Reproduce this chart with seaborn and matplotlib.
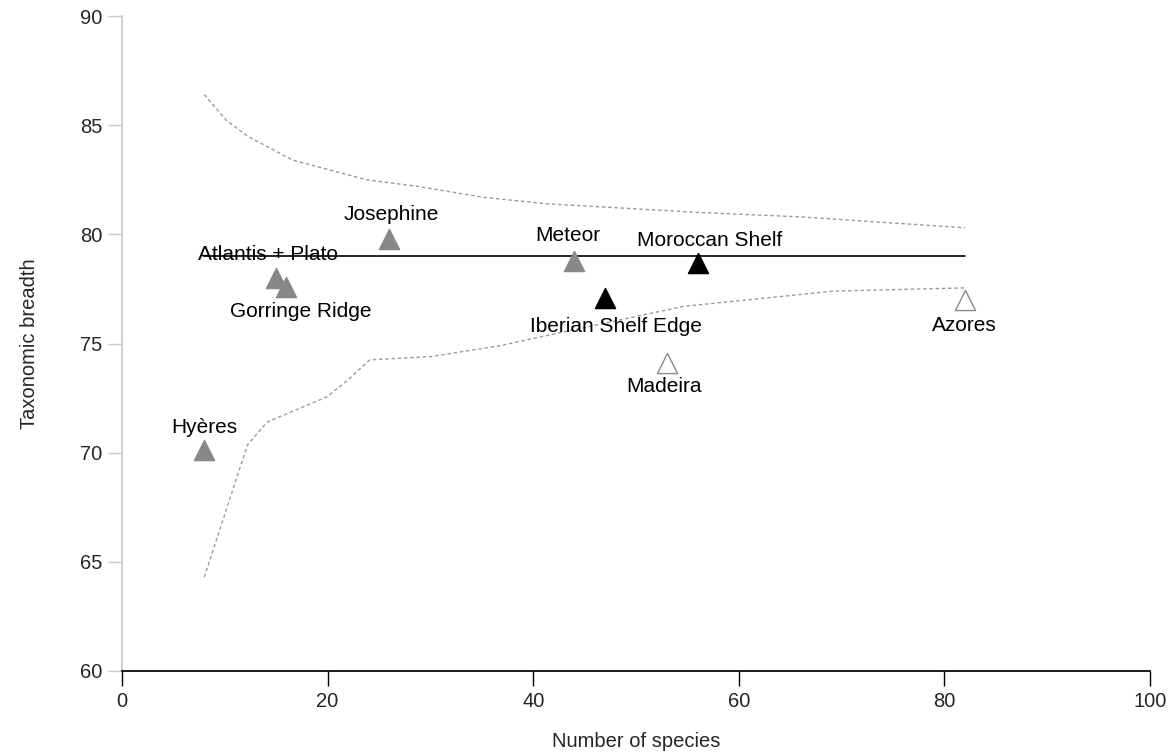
import matplotlib
matplotlib.use("Agg")
import matplotlib.pyplot as plt
import seaborn as sns
import pandas as pd

# ---- data ----
sites = ["Hyères", "Atlantis + Plato", "Gorringe Ridge", "Josephine", "Meteor",
         "Iberian Shelf Edge", "Moroccan Shelf", "Madeira", "Azores"]
n_species = [8, 15, 16, 26, 44, 47, 56, 53, 82]
breadth = [70.1, 78.0, 77.6, 79.8, 78.8, 77.1, 78.7, 74.1, 77.0]
site_type = ["seamount", "seamount", "seamount", "seamount", "seamount",
             "shelf", "shelf", "island", "island"]

mean_x = [8, 82]
mean_y = [79.0, 79.0]

upper_x = [8, 10.2, 12.2, 16.6, 20.2, 23.8, 28.7, 35.1, 41.3, 56.2, 66, 82]
upper_y = [86.4, 85.2, 84.5, 83.4, 82.95, 82.5, 82.2, 81.7, 81.4, 81.0, 80.8, 80.3]
lower_x = [8, 12.2, 14.1, 19.9, 21.9, 24.1, 30, 36.8, 40.7, 54.6, 69.2, 82.2]
lower_y = [64.3, 70.35, 71.4, 72.55, 73.3, 74.25, 74.4, 74.9, 75.3, 76.7, 77.4, 77.55]

# label offsets in pixels (layout)
label_offsets = [(0, 23), (-8, 23), (14, -25), (2, 24), (-7, 25),
                 (11, -29), (12, 22), (-3, -23), (-1, -26)]

df = pd.DataFrame({"site": sites, "n": n_species, "breadth": breadth, "type": site_type})

sns.set_theme(style="white")
plt.rcParams["font.family"] = ["Liberation Sans", "DejaVu Sans"]

fig = plt.figure(figsize=(11.74, 7.55), dpi=100)
ax = fig.add_axes([122 / 1174, 1 - 671 / 755, (1150 - 122) / 1174, (671 - 16) / 755])

dotted = dict(color="#9a9a9a", linewidth=1.0, linestyle=(0, (2.5, 2)))
sns.lineplot(x=upper_x, y=upper_y, ax=ax, sort=False, **dotted)
sns.lineplot(x=lower_x, y=lower_y, ax=ax, sort=False, **dotted)
sns.lineplot(x=mean_x, y=mean_y, ax=ax, color="black", linewidth=1.2)

styles = {
    "seamount": dict(color="#888888", edgecolor="#888888"),
    "shelf": dict(color="black", edgecolor="black"),
    "island": dict(color="white", edgecolor="#8a8a8a"),
}
for t, st in styles.items():
    sub = df[df["type"] == t]
    sns.scatterplot(data=sub, x="n", y="breadth", ax=ax, marker="^", s=210,
                    linewidth=1.0, zorder=5, **st)

for (name, x, y), (dx, dy) in zip(zip(sites, n_species, breadth), label_offsets):
    ax.annotate(name, (x, y), xytext=(dx, dy), textcoords="offset pixels",
                ha="center", va="center", fontsize=15, color="black")

ax.set_xlim(0, 100)
ax.set_ylim(60, 90)
ax.set_xticks([0, 20, 40, 60, 80, 100])
ax.set_yticks([60, 65, 70, 75, 80, 85, 90])
ax.set_xlabel("Number of species", fontsize=14.5, labelpad=15)
ax.set_ylabel("Taxonomic breadth", fontsize=14.5, labelpad=30)

for lab in ax.get_xticklabels():
    lab.set_fontsize(14.5)
for lab in ax.get_yticklabels():
    lab.set_fontsize(14.5)

ax.spines["top"].set_visible(False)
ax.spines["right"].set_visible(False)
ax.spines["left"].set_color("#c8c8c8")
ax.spines["bottom"].set_color("black")
ax.tick_params(axis="x", direction="out", length=11, width=1, color="black", pad=4)
ax.tick_params(axis="y", direction="out", length=10, width=1, color="#c8c8c8", pad=4)
ax.xaxis.set_ticks_position("bottom")
ax.yaxis.set_ticks_position("left")
if ax.get_legend():
    ax.get_legend().remove()

fig.savefig("out.png", dpi=100, facecolor="white")
